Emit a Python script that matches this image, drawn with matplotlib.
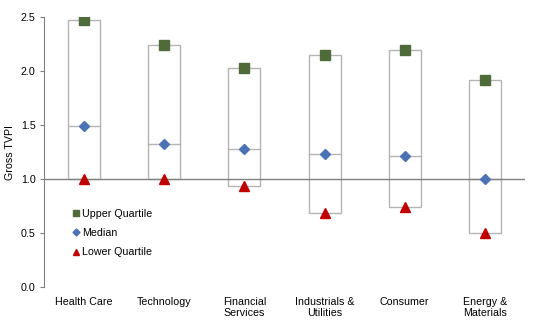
import matplotlib.pyplot as plt
from matplotlib.patches import Rectangle

plt.rcParams['font.family'] = ['Liberation Sans', 'DejaVu Sans']

categories = ['Health Care', 'Technology', 'Financial\nServices',
              'Industrials &\nUtilities', 'Consumer', 'Energy &\nMaterials']
upper = [2.47, 2.24, 2.03, 2.15, 2.19, 1.92]
median = [1.49, 1.32, 1.28, 1.23, 1.21, 1.00]
lower = [1.00, 1.00, 0.94, 0.69, 0.74, 0.50]

fig = plt.figure(figsize=(5.35, 3.28), dpi=100)
ax = fig.add_axes([0.0822, 0.124, 0.899, 0.825])

x = list(range(len(categories)))
box_w = 0.4
grey = '#b4b4b4'

# boxes from lower to upper quartile with a median line
for i in x:
    ax.add_patch(Rectangle((i - box_w / 2, lower[i]), box_w, upper[i] - lower[i],
                           facecolor='white', edgecolor=grey, linewidth=1.0, zorder=1))
    ax.plot([i - box_w / 2, i + box_w / 2], [median[i], median[i]],
            color=grey, linewidth=1.0, zorder=2)

ax.axhline(1.0, color='#808080', linewidth=1.0, zorder=3)

ax.plot(x, upper, linestyle='none', marker='s', markersize=6.5,
        color='#4f6b3a', label='Upper Quartile', zorder=4)
ax.plot(x, median, linestyle='none', marker='D', markersize=5,
        color='#4a72b5', label='Median', zorder=4)
ax.plot(x, lower, linestyle='none', marker='^', markersize=7,
        color='#c00000', label='Lower Quartile', zorder=4)

ax.set_xlim(-0.5, len(categories) - 0.5)
ax.set_ylim(0, 2.5)
ax.set_yticks([0, 0.5, 1.0, 1.5, 2.0, 2.5])
ax.set_yticklabels(['0.0', '0.5', '1.0', '1.5', '2.0', '2.5'], fontsize=7.7)
ax.set_xticks(x)
ax.set_xticklabels(categories, fontsize=7.7, linespacing=1.1)
ax.tick_params(axis='x', length=0, pad=7)
ax.tick_params(axis='y', direction='out', length=3, color='#808080', pad=3)
ax.set_ylabel('Gross TVPI', fontsize=7.7, labelpad=4)

for side in ['top', 'right', 'bottom']:
    ax.spines[side].set_visible(False)
ax.spines['left'].set_color('#808080')

leg = ax.legend(loc='upper left', bbox_to_anchor=(0.05, 0.305), frameon=False,
                fontsize=7.7, markerscale=0.7, handlelength=0.6,
                handletextpad=0.3, labelspacing=0.85, borderaxespad=0)

fig.savefig('out.png', dpi=100)
